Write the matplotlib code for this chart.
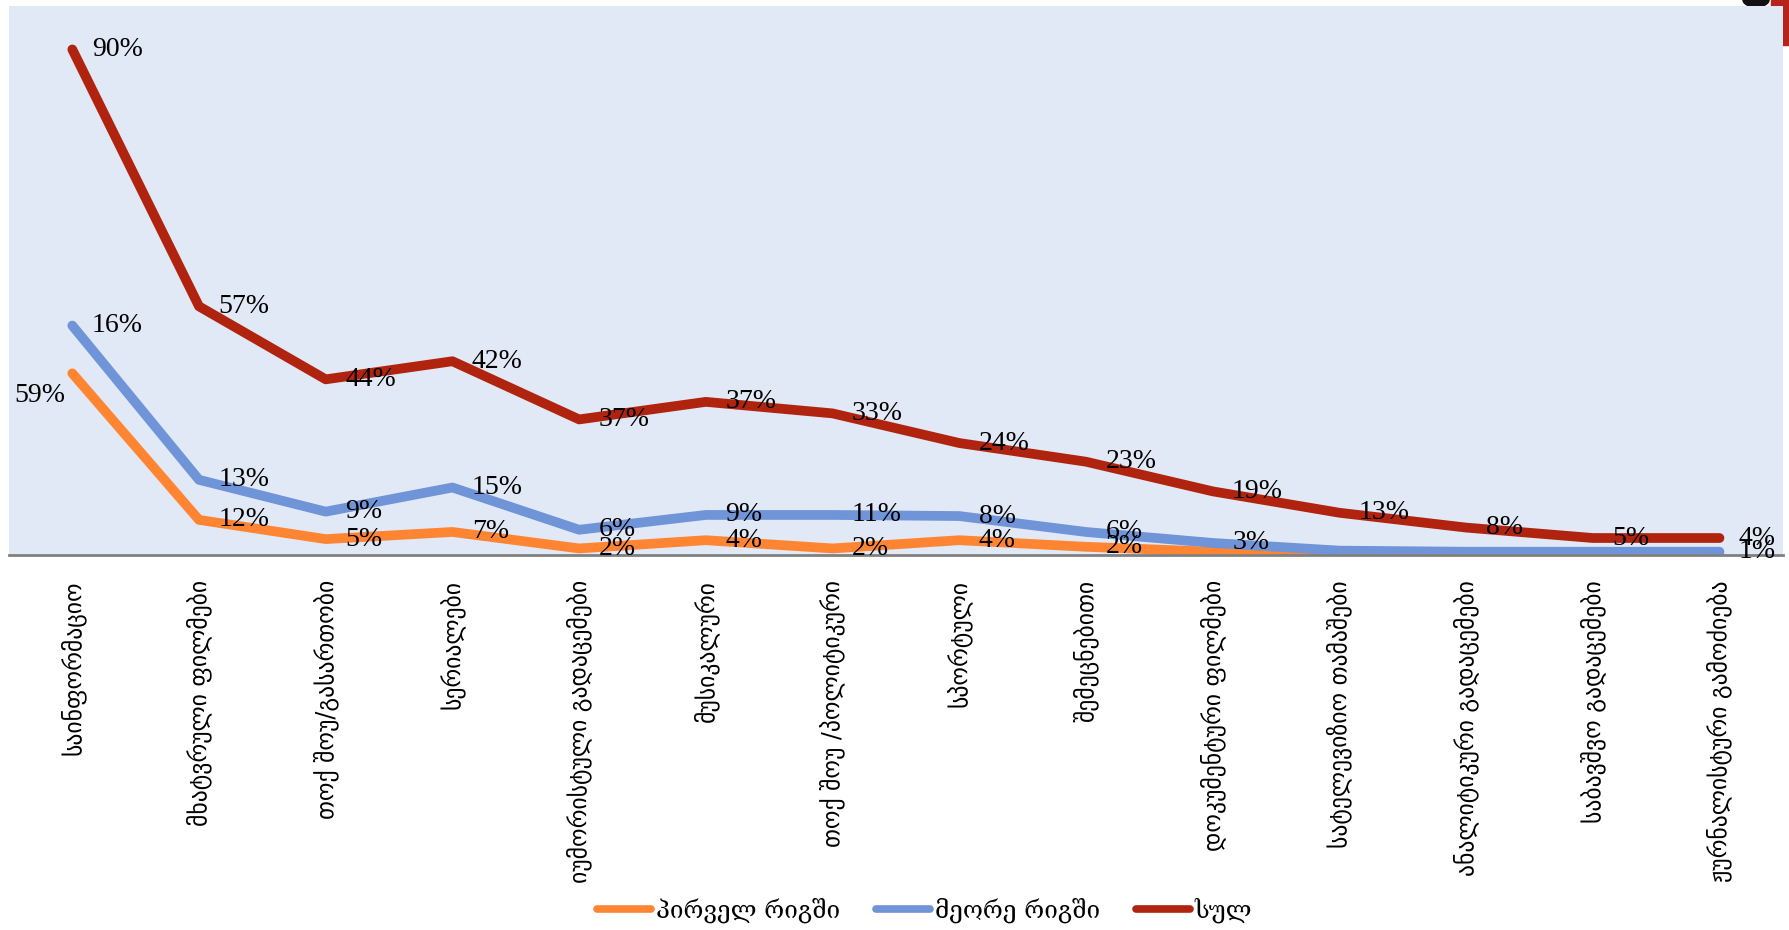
import matplotlib
matplotlib.use("Agg")
import matplotlib.pyplot as plt
import numpy as np
from matplotlib.patches import Rectangle, Ellipse

# კატეგორიები (x ღერძი)
categories = [
    "საინფორმაციო",
    "მხატვრული ფილმები",
    "თოქ შოუ/გასართობი",
    "სერიალები",
    "იუმორისტული გადაცემები",
    "მუსიკალური",
    "თოქ შოუ /პოლიტიკური",
    "სპორტული",
    "შემეცნებითი",
    "დოკუმენტური ფილმები",
    "სატელევიზიო თამაშები",
    "ანალიტიკური გადაცემები",
    "საბავშვო გადაცემები",
    "ჟურნალისტური გამოძიება",
]

# ხაზების სიმაღლეები (როგორც სურათზეა დახატული)
first_vals = [33.1, 6.4, 2.9, 4.2, 1.2, 2.7, 1.2, 2.7, 1.5, 0.6, 0, 0, 0, 0]
second_vals = [41.8, 13.7, 7.9, 12.3, 4.6, 7.3, 7.3, 7.1, 4.2, 2.2, 0.8, 0.6, 0.6, 0.6]
total_vals = [92.1, 45.3, 32.0, 35.3, 24.7, 27.9, 25.8, 20.4, 17.0, 11.6, 7.7, 5.0, 3.1, 3.1]

# წარწერები წერტილებთან
first_labels = ["59%", "12%", "5%", "7%", "2%", "4%", "2%", "4%", "2%", "", "", "", "", ""]
second_labels = ["16%", "13%", "9%", "15%", "6%", "9%", "11%", "8%", "6%", "3%", "", "", "", "1%"]
total_labels = ["90%", "57%", "44%", "42%", "37%", "37%", "33%", "24%", "23%", "19%", "13%", "8%", "5%", "4%"]

series_names = ["პირველ რიგში", "მეორე რიგში", "სულ"]
colors = ["#FF8533", "#7094D8", "#B0240F"]

fig = plt.figure(figsize=(17.9, 9.3), dpi=100)
ax = fig.add_axes([0.005, 0.4032, 0.991, 0.5903])
ax.set_facecolor("#E1E9F6")

# პატარა ნაჭერი ზედა მარჯვენა კუთხეში
fig.patches.append(Rectangle((1771 / 1790, 1 - 45 / 930), 19 / 1790, 45 / 930,
                             transform=fig.transFigure, color="#B5231C", zorder=-1))
fig.patches.append(Ellipse((1756 / 1790, 1.0), 26 / 1790, 14 / 930,
                           transform=fig.transFigure, color="#111111", zorder=-1))

x = np.arange(len(categories))
all_vals = [first_vals, second_vals, total_vals]
all_labels = [first_labels, second_labels, total_labels]
for vals, name, c in zip(all_vals, series_names, colors):
    ax.plot(x, vals, color=c, lw=7, label=name,
            solid_capstyle="round", solid_joinstyle="round")

for vals, labs in zip(all_vals, all_labels):
    for i, (v, t) in enumerate(zip(vals, labs)):
        if not t:
            continue
        if t == "59%" and i == 0:
            ax.annotate(t, (i, v), xytext=(-5, -16), textcoords="offset points",
                        ha="right", va="center", fontsize=20, family="Liberation Serif")
        else:
            ax.annotate(t, (i, v), xytext=(14, 0), textcoords="offset points",
                        ha="left", va="center", fontsize=20, family="Liberation Serif",
                        annotation_clip=False)

ax.set_xlim(-0.5, 13.5)
ax.set_ylim(0, 100)
ax.set_yticks([])
ax.set_xticks(x)
ax.set_xticklabels(categories, rotation=90, fontsize=17, family="DejaVu Sans")
ax.tick_params(axis="x", length=0, pad=18)
for s in ["top", "right", "left"]:
    ax.spines[s].set_visible(False)
ax.spines["bottom"].set_color("#808080")
ax.spines["bottom"].set_linewidth(2)

leg = fig.legend(loc="center", bbox_to_anchor=(0.5166, 0.0215), ncol=3, frameon=False,
                 handlelength=2.2, columnspacing=1.5, handletextpad=0.2,
                 prop={"family": ["DejaVu Serif", "DejaVu Sans"], "size": 17.5})
for h in leg.get_lines():
    h.set_linewidth(5.5)

fig.savefig("out.png", dpi=100)
